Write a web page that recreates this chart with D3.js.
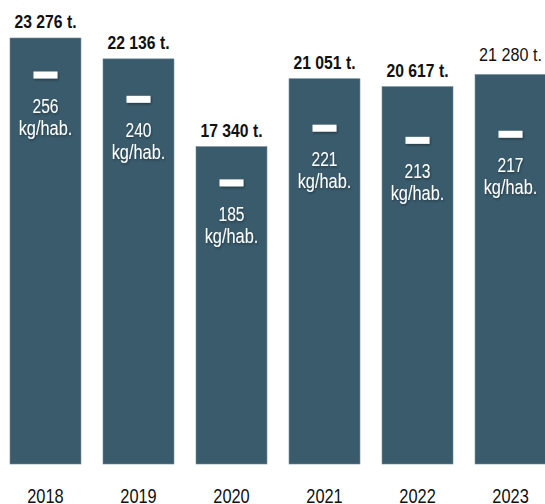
<!DOCTYPE html>
<html>
<head>
<meta charset="utf-8">
<script src="https://cdn.jsdelivr.net/npm/d3@7"></script>
<style>
  html, body { margin: 0; padding: 0; background: #fff; }
  svg { display: block; }
</style>
</head>
<body>
<div id="container"></div>
<script>
const WIDTH = 545;
const HEIGHT = 504;
const BAR_COLOR = '#395b6c';
const FONT = '"Liberation Sans", Arial, sans-serif';

// data
const years = ['2018', '2019', '2020', '2021', '2022', '2023'];
const tonnes = [23276, 22136, 17340, 21051, 20617, 21280];
const kgPerHab = [256, 240, 185, 221, 213, 217];

const fmt = d3.formatLocale({ thousands: ' ', grouping: [3], decimal: ',', currency: ['', ''] }).format(',d');

const svg = d3.select('#container')
  .append('svg')
  .attr('width', WIDTH)
  .attr('height', HEIGHT);

// soft shadow used by the white marks inside the bars
svg.append('defs')
  .append('filter')
  .attr('id', 'shadow')
  .attr('x', '-20%').attr('y', '-20%')
  .attr('width', '140%').attr('height', '160%')
  .append('feDropShadow')
  .attr('dx', 1).attr('dy', 1.5)
  .attr('stdDeviation', 1)
  .attr('flood-color', '#000')
  .attr('flood-opacity', 0.35);

const x = d3.scaleBand()
  .domain(years)
  .range([10, 546])
  .paddingInner(0.237)
  .paddingOuter(0);

const y = d3.scaleLinear()
  .domain([0, d3.max(tonnes)])
  .range([464, 38]);

// second scale for the kg/hab. marker
const yKg = d3.scaleLinear()
  .domain([0, d3.max(kgPerHab)])
  .range([464, 75]);

const g = svg.append('g');

// no narrow font installed, so squeeze the text horizontally
function condensedText(parent, cx, cy, str, size, squeeze) {
  return parent.append('text')
    .attr('transform', `translate(${cx},${cy}) scale(${squeeze},1)`)
    .attr('text-anchor', 'middle')
    .style('font-family', FONT)
    .style('font-size', size + 'px')
    .text(str);
}

years.forEach((year, i) => {
  const cx = x(year) + x.bandwidth() / 2;
  const isLast = i === years.length - 1;

  g.append('rect')
    .attr('x', x(year))
    .attr('y', y(tonnes[i]))
    .attr('width', x.bandwidth())
    .attr('height', y(0) - y(tonnes[i]))
    .style('fill', BAR_COLOR)
    .style('stroke', '#6d8896')
    .style('stroke-width', 0.6);

  // total label above the bar
  condensedText(g, cx, y(tonnes[i]) - (isLast ? 14 : 10), fmt(tonnes[i]) + ' t.', isLast ? 19 : 18.5, 0.85)
    .style('font-weight', isLast ? 'normal' : 'bold')
    .style('fill', '#111');

  // white dash marking kg/hab.
  const my = yKg(kgPerHab[i]);
  g.append('rect')
    .attr('x', cx - 12)
    .attr('y', my - 3.5)
    .attr('width', 24)
    .attr('height', 7)
    .style('fill', '#fff')
    .attr('filter', 'url(#shadow)');

  condensedText(g, cx, my + 38, kgPerHab[i], 19.5, 0.8)
    .style('fill', '#fff')
    .attr('filter', 'url(#shadow)');

  condensedText(g, cx, my + 60, 'kg/hab.', 19.5, 0.84)
    .style('fill', '#fff')
    .attr('filter', 'url(#shadow)');

  // year under the bar
  condensedText(g, cx, 503, year, 20.5, 0.8)
    .style('fill', '#111');
});
</script>
</body>
</html>
